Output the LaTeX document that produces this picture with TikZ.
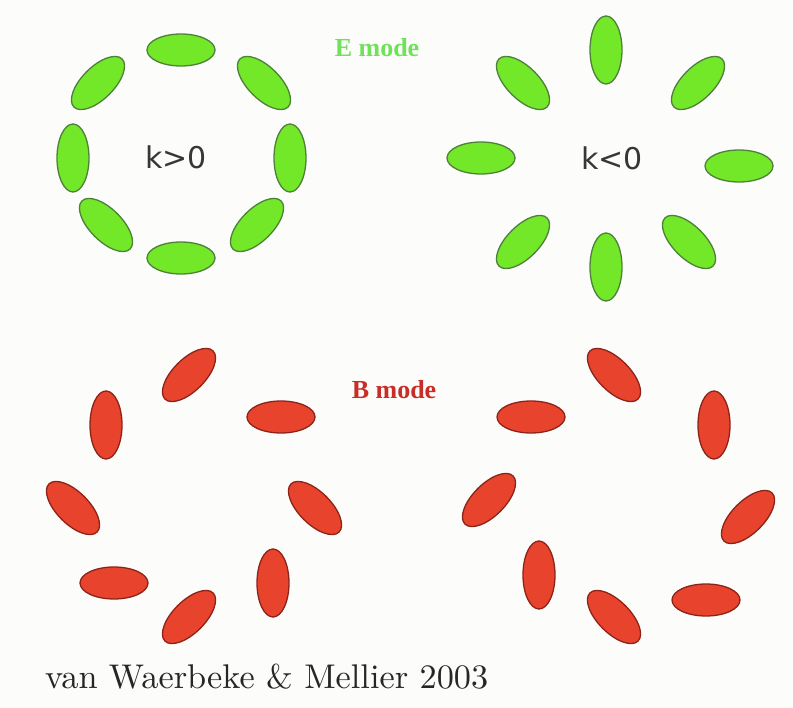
\documentclass[tikz,border=0pt]{standalone}
\usepackage{fontspec}
\usetikzlibrary{shapes.geometric}
\newfontfamily\labelsans{DejaVu Sans}
\newfontfamily\modeserif{Liberation Serif}
\definecolor{bgcol}{RGB}{252,252,250}
\definecolor{egreen}{RGB}{114,232,40}
\definecolor{egreenline}{RGB}{78,128,58}
\definecolor{bred}{RGB}{232,68,45}
\definecolor{bredline}{RGB}{140,35,25}
\definecolor{etext}{RGB}{110,226,88}
\definecolor{btext}{RGB}{200,45,40}
\definecolor{ktext}{RGB}{55,55,55}
\begin{document}
\begin{tikzpicture}[x=1pt,y=-1pt,
  blob/.style={ellipse, minimum width=68pt, minimum height=32pt, inner sep=0pt, line width=1.3pt},
  eblob/.style={blob, draw=egreenline, fill=egreen},
  bblob/.style={blob, draw=bredline, fill=bred},
  klabel/.style={font=\labelsans\fontsize{30}{36}\selectfont, text=ktext, inner sep=0pt},
  modelabel/.style={font=\modeserif\bfseries\fontsize{26}{31}\selectfont, inner sep=0pt}]
\fill[bgcol] (0,0) rectangle (793,708);
\useasboundingbox (0,0) rectangle (793,708);
% E mode, k>0 (tangential)
\node[eblob, rotate=0]   (ea1) at (181,50) {};
\node[eblob, rotate=-45] (ea2) at (264,83) {};
\node[eblob, rotate=90]  (ea3) at (290,158) {};
\node[eblob, rotate=45]  (ea4) at (257,225) {};
\node[eblob, rotate=0]   (ea5) at (181,258) {};
\node[eblob, rotate=-45] (ea6) at (106,225) {};
\node[eblob, rotate=90]  (ea7) at (73,158) {};
\node[eblob, rotate=45]  (ea8) at (98,83) {};
\node[klabel] (kpos) at (176,157) {k>0};
% E mode, k<0 (radial)
\node[eblob, rotate=90]  (eb1) at (606,50) {};
\node[eblob, rotate=45]  (eb2) at (698,83) {};
\node[eblob, rotate=0]   (eb3) at (739,166) {};
\node[eblob, rotate=-45] (eb4) at (689,242) {};
\node[eblob, rotate=90]  (eb5) at (606,267) {};
\node[eblob, rotate=45]  (eb6) at (523,242) {};
\node[eblob, rotate=0]   (eb7) at (481,158) {};
\node[eblob, rotate=-45] (eb8) at (523,83) {};
\node[klabel] (kneg) at (612,158) {k<0};
% B mode, left
\node[bblob, rotate=45]  (ba1) at (189,375) {};
\node[bblob, rotate=0]   (ba2) at (281,417) {};
\node[bblob, rotate=-45] (ba3) at (315,508) {};
\node[bblob, rotate=90]  (ba4) at (273,583) {};
\node[bblob, rotate=45]  (ba5) at (189,617) {};
\node[bblob, rotate=0]   (ba6) at (114,583) {};
\node[bblob, rotate=-45] (ba7) at (73,508) {};
\node[bblob, rotate=90]  (ba8) at (106,425) {};
% B mode, right
\node[bblob, rotate=-45] (bb1) at (614,375) {};
\node[bblob, rotate=90]  (bb2) at (714,425) {};
\node[bblob, rotate=45]  (bb3) at (748,517) {};
\node[bblob, rotate=0]   (bb4) at (706,600) {};
\node[bblob, rotate=-45] (bb5) at (614,617) {};
\node[bblob, rotate=90]  (bb6) at (539,575) {};
\node[bblob, rotate=45]  (bb7) at (489,500) {};
\node[bblob, rotate=0]   (bb8) at (531,417) {};
% labels
\node[modelabel, text=etext] (emode) at (377,48) {E mode};
\node[modelabel, text=btext] (bmode) at (394,390) {B mode};
\node[anchor=base west, inner sep=0pt, text=black!85] (cite) at (45,688)
  {\resizebox{443pt}{!}{van Waerbeke \& Mellier 2003}};
\end{tikzpicture}
\end{document}
